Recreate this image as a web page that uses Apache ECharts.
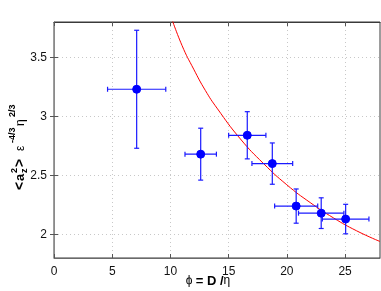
<!DOCTYPE html>
<html>
<head>
<meta charset="utf-8">
<script src="https://cdn.jsdelivr.net/npm/echarts@6/dist/echarts.min.js"></script>
<style>html,body{margin:0;padding:0;background:#fff;}#c{width:381px;height:291px;}</style>
</head>
<body>
<div id="c"></div>
<script>
// Data
var phiValues = [7.1, 12.6, 16.6, 18.75, 20.8, 22.95, 25.05];
var aValues = [3.23, 2.68, 2.84, 2.60, 2.24, 2.18, 2.13];
var phiErr = [2.5, 1.35, 1.6, 1.75, 1.85, 1.95, 2.0];
var aErr = [0.5, 0.22, 0.2, 0.175, 0.145, 0.13, 0.125];
var curvePhi = [10, 11, 12, 13, 14, 16, 18, 20, 22, 24, 26, 28];
var curveA = [3.86, 3.60, 3.40, 3.22, 3.07, 2.81, 2.60, 2.42, 2.27, 2.14, 2.03, 1.94];
var xTicks = [0, 5, 10, 15, 20, 25];
var yTicks = [2, 2.5, 3, 3.5];

var chart = echarts.init(document.getElementById('c'), null, {renderer: 'canvas'});
var grid = {left: 54, right: 1, top: 22, bottom: 33, show: true, borderColor: '#3a3a3a', borderWidth: 1, backgroundColor: '#fff'};
var splitStyle = {show: true, lineStyle: {color: '#c8c8c8', type: [1, 3], width: 1}};
var font = 'Liberation Sans, Arial, sans-serif';

var errData = phiValues.map(function (p, i) { return [p, aValues[i], phiErr[i], aErr[i]]; });
var curveData = curvePhi.map(function (p, i) { return [p, curveA[i]]; });

chart.setOption({
  animation: false,
  grid: grid,
  xAxis: [{
    type: 'value', min: 0, max: 28,
    axisLine: {show: true, onZero: false, lineStyle: {color: '#6a6a6a', width: 1}},
    axisTick: {inside: true, length: 4, customValues: xTicks, lineStyle: {color: '#555'}},
    axisLabel: {customValues: xTicks, color: '#111', fontSize: 12, fontFamily: font, margin: 8},
    splitLine: splitStyle
  }, {
    type: 'value', min: 0, max: 28, position: 'top',
    axisLine: {show: true, lineStyle: {color: '#3a3a3a'}},
    axisTick: {inside: true, length: 4, customValues: xTicks, lineStyle: {color: '#555'}},
    axisLabel: {show: false}, splitLine: {show: false}
  }],
  yAxis: [{
    type: 'value', min: 1.8, max: 3.8,
    axisLine: {show: true, onZero: false, lineStyle: {color: '#6a6a6a', width: 1}},
    axisTick: {inside: true, length: 4, customValues: yTicks, lineStyle: {color: '#555'}},
    axisLabel: {customValues: yTicks, color: '#111', fontSize: 12, fontFamily: font, margin: 7},
    splitLine: splitStyle
  }, {
    type: 'value', min: 1.8, max: 3.8, position: 'right',
    axisLine: {show: true, lineStyle: {color: '#8a8a8a'}},
    axisTick: {inside: true, length: 4, customValues: yTicks, lineStyle: {color: '#555'}},
    axisLabel: {show: false}, splitLine: {show: false}
  }],
  series: [{
    type: 'line', data: curveData, smooth: true, showSymbol: false, clip: true,
    lineStyle: {color: '#ff0000', width: 1}, z: 3
  }, {
    type: 'custom', data: errData, clip: false, z: 4,
    renderItem: function (params, api) {
      var x = api.value(0), y = api.value(1), ex = api.value(2), ey = api.value(3);
      var c = api.coord([x, y]);
      var l = api.coord([x - ex, y]), r = api.coord([x + ex, y]);
      var t = api.coord([x, y + ey]), b = api.coord([x, y - ey]);
      var cap = 2.5;
      var st = {stroke: '#1a1aff', lineWidth: 1.2};
      function ln(x1, y1, x2, y2) { return {type: 'line', shape: {x1: x1, y1: y1, x2: x2, y2: y2}, style: st}; }
      return {type: 'group', children: [
        ln(l[0], l[1], r[0], r[1]),
        ln(t[0], t[1], b[0], b[1]),
        ln(l[0], l[1] - cap, l[0], l[1] + cap),
        ln(r[0], r[1] - cap, r[0], r[1] + cap),
        ln(t[0] - cap, t[1], t[0] + cap, t[1]),
        ln(b[0] - cap, b[1], b[0] + cap, b[1]),
        {type: 'circle', shape: {cx: c[0], cy: c[1], r: 4}, style: {fill: '#0000ff', stroke: '#0000ff'}}
      ]};
    }
  }],
  graphic: [{
    type: 'group', x: 20, y: 190, rotation: Math.PI / 2,
    children: [
      {type: 'text', x: 0, y: 0, style: {text: '<', font: 'bold 14px ' + font, fill: '#000', verticalAlign: 'middle', align: 'left'}},
      {type: 'text', x: 9, y: 0, style: {text: 'a', font: 'bold 13px ' + font, fill: '#000', verticalAlign: 'middle', align: 'left'}},
      {type: 'text', x: 17, y: -5, style: {text: '2', font: 'bold 9px ' + font, fill: '#000', verticalAlign: 'middle', align: 'left'}},
      {type: 'text', x: 17, y: 5, style: {text: 'z', font: 'bold 9px ' + font, fill: '#000', verticalAlign: 'middle', align: 'left'}},
      {type: 'text', x: 23, y: 0, style: {text: '>', font: 'bold 14px ' + font, fill: '#000', verticalAlign: 'middle', align: 'left'}},
      {type: 'text', x: 39, y: 1, style: {text: 'ε', font: '12px ' + font, fill: '#000', verticalAlign: 'middle', align: 'left'}},
      {type: 'text', x: 47, y: -7, style: {text: '-4/3', font: 'bold 9px ' + font, fill: '#000', verticalAlign: 'middle', align: 'left'}},
      {type: 'text', x: 64, y: 1, style: {text: 'η', font: '12px ' + font, fill: '#000', verticalAlign: 'middle', align: 'left'}},
      {type: 'text', x: 73, y: -7, style: {text: '2/3', font: 'bold 9px ' + font, fill: '#000', verticalAlign: 'middle', align: 'left'}}
    ]
  }, {
    type: 'text', x: 208, y: 281,
    style: {
      text: '{n|ϕ} {b|= D /}{n|η}', align: 'center', verticalAlign: 'middle',
      rich: {
        n: {font: '12px ' + font, fill: '#000'},
        b: {font: 'bold 13px ' + font, fill: '#000'}
      }
    }
  }]
});
</script>
</body>
</html>
